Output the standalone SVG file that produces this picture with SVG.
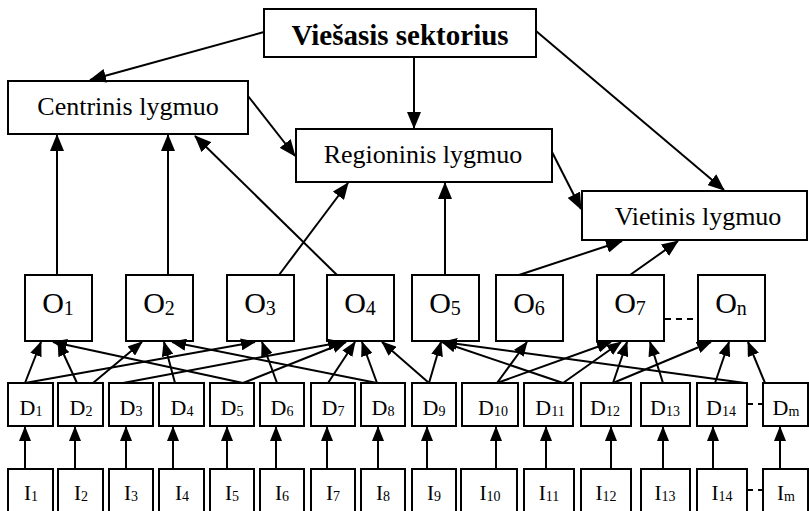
<svg xmlns="http://www.w3.org/2000/svg" width="809" height="511" viewBox="0 0 809 511">
  <style>
    .box { fill: #fff; stroke: #000; stroke-width: 2; }
    .lbl { font-family: "Liberation Serif", "Times New Roman", serif; fill: #000; text-anchor: middle; }
    .lvl { font-size: 26px; }
    .title { font-size: 29px; font-weight: bold; }
    .o { font-size: 30px; }
    .o .s { font-size: 20px; }
    .d { font-size: 22px; }
    .d .s { font-size: 14px; }
    .i { font-size: 21px; }
    .i .s { font-size: 14px; }
    .conn line { stroke: #000; stroke-width: 2; fill: none; }
    .big { marker-end: url(#ah); }
    .small { marker-end: url(#ahs); }
    .dash { stroke: #000; stroke-width: 2; stroke-dasharray: 6 5; }
  </style>
  <defs>
    <marker id="ah" markerUnits="userSpaceOnUse" viewBox="0 0 17 14" refX="16" refY="7" markerWidth="17" markerHeight="14" orient="auto">
      <path d="M0,0 L17,7 L0,14 z" fill="#000"/>
    </marker>
    <marker id="ahs" markerUnits="userSpaceOnUse" viewBox="0 0 15 12" refX="14" refY="6" markerWidth="15" markerHeight="12" orient="auto">
      <path d="M0,0 L15,6 L0,12 z" fill="#000"/>
    </marker>
  </defs>

  <!-- level nodes -->
  <g id="viesasis">
    <rect class="box" x="264" y="9" width="272" height="48"/>
    <text class="lbl title" x="400" y="45">Viešasis sektorius</text>
  </g>
  <g id="centrinis">
    <rect class="box" x="8" y="81" width="240" height="53"/>
    <text class="lbl lvl" x="128" y="115">Centrinis lygmuo</text>
  </g>
  <g id="regioninis">
    <rect class="box" x="296" y="129" width="256" height="53"/>
    <text class="lbl lvl" x="423" y="163">Regioninis lygmuo</text>
  </g>
  <g id="vietinis">
    <rect class="box" x="582" y="191" width="225" height="49"/>
    <text class="lbl lvl" x="698" y="225">Vietinis lygmuo</text>
  </g>

  <!-- O nodes -->
  <g id="O1"><rect class="box" x="25" y="275" width="67" height="66"/><text class="lbl o" x="58" y="313">O<tspan class="s" dy="2">1</tspan></text></g>
  <g id="O2"><rect class="box" x="126" y="275" width="67" height="66"/><text class="lbl o" x="159" y="313">O<tspan class="s" dy="2">2</tspan></text></g>
  <g id="O3"><rect class="box" x="227" y="275" width="67" height="66"/><text class="lbl o" x="260" y="313">O<tspan class="s" dy="2">3</tspan></text></g>
  <g id="O4"><rect class="box" x="327" y="275" width="67" height="66"/><text class="lbl o" x="360" y="313">O<tspan class="s" dy="2">4</tspan></text></g>
  <g id="O5"><rect class="box" x="412" y="275" width="67" height="66"/><text class="lbl o" x="445" y="313">O<tspan class="s" dy="2">5</tspan></text></g>
  <g id="O6"><rect class="box" x="496" y="275" width="67" height="66"/><text class="lbl o" x="529" y="313">O<tspan class="s" dy="2">6</tspan></text></g>
  <g id="O7"><rect class="box" x="597" y="275" width="67" height="66"/><text class="lbl o" x="630" y="313">O<tspan class="s" dy="2">7</tspan></text></g>
  <g id="On"><rect class="box" x="698" y="275" width="67" height="66"/><text class="lbl o" x="731" y="313">O<tspan class="s" dy="2">n</tspan></text></g>

  <!-- D nodes -->
  <g id="D1"><rect class="box" x="8" y="383" width="45" height="43"/><text class="lbl d" x="31" y="415">D<tspan class="s" dy="1">1</tspan></text></g>
  <g id="D2"><rect class="box" x="58" y="383" width="45" height="43"/><text class="lbl d" x="81" y="415">D<tspan class="s" dy="1">2</tspan></text></g>
  <g id="D3"><rect class="box" x="109" y="383" width="44" height="43"/><text class="lbl d" x="131" y="415">D<tspan class="s" dy="1">3</tspan></text></g>
  <g id="D4"><rect class="box" x="159" y="383" width="45" height="43"/><text class="lbl d" x="182" y="415">D<tspan class="s" dy="1">4</tspan></text></g>
  <g id="D5"><rect class="box" x="210" y="383" width="44" height="43"/><text class="lbl d" x="232" y="415">D<tspan class="s" dy="1">5</tspan></text></g>
  <g id="D6"><rect class="box" x="260" y="383" width="44" height="43"/><text class="lbl d" x="282" y="415">D<tspan class="s" dy="1">6</tspan></text></g>
  <g id="D7"><rect class="box" x="311" y="383" width="44" height="43"/><text class="lbl d" x="333" y="415">D<tspan class="s" dy="1">7</tspan></text></g>
  <g id="D8"><rect class="box" x="361" y="383" width="44" height="43"/><text class="lbl d" x="383" y="415">D<tspan class="s" dy="1">8</tspan></text></g>
  <g id="D9"><rect class="box" x="412" y="383" width="44" height="43"/><text class="lbl d" x="434" y="415">D<tspan class="s" dy="1">9</tspan></text></g>
  <g id="D10"><rect class="box" x="462" y="383" width="56" height="43"/><text class="lbl d" x="493" y="415">D<tspan class="s" dy="1">10</tspan></text></g>
  <g id="D11"><rect class="box" x="524" y="383" width="49" height="43"/><text class="lbl d" x="550" y="415">D<tspan class="s" dy="1">11</tspan></text></g>
  <g id="D12"><rect class="box" x="581" y="383" width="50" height="43"/><text class="lbl d" x="605" y="415">D<tspan class="s" dy="1">12</tspan></text></g>
  <g id="D13"><rect class="box" x="641" y="383" width="49" height="43"/><text class="lbl d" x="665" y="415">D<tspan class="s" dy="1">13</tspan></text></g>
  <g id="D14"><rect class="box" x="697" y="383" width="50" height="43"/><text class="lbl d" x="721" y="415">D<tspan class="s" dy="1">14</tspan></text></g>
  <g id="Dm"><rect class="box" x="763" y="383" width="45" height="43"/><text class="lbl d" x="786" y="415">D<tspan class="s" dy="1">m</tspan></text></g>

  <!-- I nodes -->
  <g id="I1"><rect class="box" x="8" y="469" width="45" height="52"/><text class="lbl i" x="31" y="500">I<tspan class="s" dy="1">1</tspan></text></g>
  <g id="I2"><rect class="box" x="58" y="469" width="45" height="52"/><text class="lbl i" x="81" y="500">I<tspan class="s" dy="1">2</tspan></text></g>
  <g id="I3"><rect class="box" x="109" y="469" width="44" height="52"/><text class="lbl i" x="131" y="500">I<tspan class="s" dy="1">3</tspan></text></g>
  <g id="I4"><rect class="box" x="159" y="469" width="45" height="52"/><text class="lbl i" x="182" y="500">I<tspan class="s" dy="1">4</tspan></text></g>
  <g id="I5"><rect class="box" x="210" y="469" width="44" height="52"/><text class="lbl i" x="232" y="500">I<tspan class="s" dy="1">5</tspan></text></g>
  <g id="I6"><rect class="box" x="260" y="469" width="44" height="52"/><text class="lbl i" x="282" y="500">I<tspan class="s" dy="1">6</tspan></text></g>
  <g id="I7"><rect class="box" x="311" y="469" width="44" height="52"/><text class="lbl i" x="333" y="500">I<tspan class="s" dy="1">7</tspan></text></g>
  <g id="I8"><rect class="box" x="361" y="469" width="44" height="52"/><text class="lbl i" x="383" y="500">I<tspan class="s" dy="1">8</tspan></text></g>
  <g id="I9"><rect class="box" x="412" y="469" width="44" height="52"/><text class="lbl i" x="434" y="500">I<tspan class="s" dy="1">9</tspan></text></g>
  <g id="I10"><rect class="box" x="461" y="469" width="56" height="52"/><text class="lbl i" x="490" y="500">I<tspan class="s" dy="1">10</tspan></text></g>
  <g id="I11"><rect class="box" x="524" y="469" width="50" height="52"/><text class="lbl i" x="549" y="500">I<tspan class="s" dy="1">11</tspan></text></g>
  <g id="I12"><rect class="box" x="581" y="469" width="50" height="52"/><text class="lbl i" x="606" y="500">I<tspan class="s" dy="1">12</tspan></text></g>
  <g id="I13"><rect class="box" x="641" y="469" width="49" height="52"/><text class="lbl i" x="665" y="500">I<tspan class="s" dy="1">13</tspan></text></g>
  <g id="I14"><rect class="box" x="697" y="469" width="50" height="52"/><text class="lbl i" x="722" y="500">I<tspan class="s" dy="1">14</tspan></text></g>
  <g id="Im"><rect class="box" x="763" y="469" width="45" height="52"/><text class="lbl i" x="786" y="500">I<tspan class="s" dy="1">m</tspan></text></g>

  <!-- connectors -->
  <g id="connectors" class="conn">
    <!-- public sector to levels -->
    <line class="big" x1="264" y1="32" x2="90" y2="80"/>
    <line class="big" x1="414" y1="57" x2="414" y2="128"/>
    <line class="big" x1="536" y1="31" x2="724" y2="190"/>
    <line class="big" x1="248" y1="96" x2="295" y2="156"/>
    <line class="big" x1="552" y1="152" x2="581" y2="209"/>
    <!-- O to levels -->
    <line class="big" x1="57" y1="275" x2="57" y2="135"/>
    <line class="big" x1="168" y1="275" x2="168" y2="135"/>
    <line class="big" x1="337" y1="275" x2="195" y2="136"/>
    <line class="big" x1="279" y1="275" x2="348" y2="183"/>
    <line class="big" x1="445" y1="275" x2="445" y2="183"/>
    <line class="big" x1="519" y1="275" x2="622" y2="241"/>
    <line class="big" x1="630" y1="275" x2="678" y2="241"/>
    <!-- D to O -->
    <line class="small" x1="25" y1="383" x2="41" y2="342"/>
    <line class="small" x1="25" y1="383" x2="255" y2="342"/>
    <line class="small" x1="77" y1="383" x2="58" y2="342"/>
    <line class="small" x1="93" y1="383" x2="142" y2="342"/>
    <line class="small" x1="123" y1="383" x2="342" y2="342"/>
    <line class="small" x1="175" y1="383" x2="164" y2="342"/>
    <line class="small" x1="243" y1="383" x2="53" y2="342"/>
    <line class="small" x1="243" y1="383" x2="346" y2="342"/>
    <line class="small" x1="277" y1="383" x2="262" y2="342"/>
    <line class="small" x1="328" y1="383" x2="355" y2="342"/>
    <line class="small" x1="377" y1="383" x2="172" y2="342"/>
    <line class="small" x1="377" y1="383" x2="362" y2="342"/>
    <line class="small" x1="429" y1="383" x2="382" y2="342"/>
    <line class="small" x1="429" y1="383" x2="441" y2="342"/>
    <line class="small" x1="497" y1="383" x2="527" y2="342"/>
    <line class="small" x1="497" y1="383" x2="611" y2="342"/>
    <line class="small" x1="563" y1="383" x2="442" y2="342"/>
    <line class="small" x1="563" y1="383" x2="621" y2="342"/>
    <line class="small" x1="613" y1="383" x2="627" y2="342"/>
    <line class="small" x1="613" y1="383" x2="711" y2="342"/>
    <line class="small" x1="663" y1="383" x2="650" y2="342"/>
    <line class="small" x1="745" y1="383" x2="443" y2="342"/>
    <line class="small" x1="715" y1="383" x2="729" y2="342"/>
    <line class="small" x1="765" y1="383" x2="748" y2="342"/>
    <!-- I to D -->
    <line class="small" x1="25" y1="469" x2="25" y2="427"/>
    <line class="small" x1="75" y1="469" x2="75" y2="427"/>
    <line class="small" x1="126" y1="469" x2="126" y2="427"/>
    <line class="small" x1="173" y1="469" x2="173" y2="427"/>
    <line class="small" x1="227" y1="469" x2="227" y2="427"/>
    <line class="small" x1="276" y1="469" x2="276" y2="427"/>
    <line class="small" x1="327" y1="469" x2="327" y2="427"/>
    <line class="small" x1="378" y1="469" x2="378" y2="427"/>
    <line class="small" x1="427" y1="469" x2="427" y2="427"/>
    <line class="small" x1="496" y1="469" x2="496" y2="427"/>
    <line class="small" x1="546" y1="469" x2="546" y2="427"/>
    <line class="small" x1="611" y1="469" x2="611" y2="427"/>
    <line class="small" x1="663" y1="469" x2="663" y2="427"/>
    <line class="small" x1="713" y1="469" x2="713" y2="427"/>
    <line class="small" x1="780" y1="469" x2="780" y2="427"/>
    <!-- continuation dashes -->
    <line class="dash" x1="665" y1="319" x2="697" y2="319"/>
    <line class="dash" x1="747" y1="404" x2="763" y2="404"/>
    <line class="dash" x1="747" y1="490" x2="763" y2="490"/>
  </g>
</svg>
